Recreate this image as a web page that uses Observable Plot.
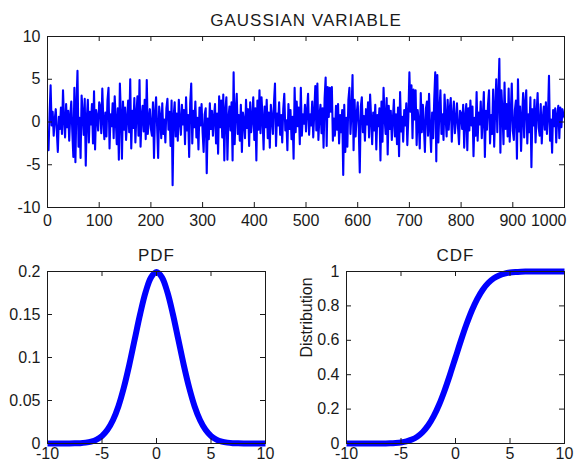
<!DOCTYPE html>
<html><head><meta charset="utf-8">
<script src="https://cdn.jsdelivr.net/npm/d3@7"></script>
<script src="https://cdn.jsdelivr.net/npm/@observablehq/plot@0.6"></script>
<style>
html,body{margin:0;padding:0;background:#fff;}
#fig{position:relative;width:579px;height:463px;overflow:hidden;background:#fff;}
#fig svg{position:absolute;font-family:"Liberation Sans",Arial,sans-serif;}
</style></head><body><div id="fig"></div>
<script>
// ---- data ----
const signal = [
-3.3,0.9,4.3,-0.4,1.2,-1.6,0.3,1.5,-1.1,-3.5,0.6,-0.8,1.7,-1.4,3.7,0.2,-1.8,2.1,-0.6,1.3,-2.2,0.7,2.4,-1.2,-4.1,4.0,-4.7,1.9,6.0,-2.9,0.5,-4.2,3.1,1.0,-1.5,2.7,-5.1,0.4,2.6,-2.4,1.2,-0.3,2.1,-2.5,3.6,-3.2,1.4,0.6,-1.0,2.3,
1.8,-1.3,3.9,0.2,-2.0,1.1,-1.7,2.5,4.0,-3.1,0.9,-0.5,2.2,-1.9,3.0,0.3,-2.6,1.6,-4.4,4.5,0.8,-4.3,2.4,-0.9,1.7,-2.1,0.4,2.5,-1.2,5.0,-3.1,1.3,-0.7,2.8,-2.4,0.9,3.0,-1.6,4.9,-2.9,0.6,1.9,-1.1,2.6,-2.0,4.9,-1.4,0.2,1.5,-0.8,
-1.6,2.3,-4.2,1.0,2.9,-0.5,-4.2,1.8,0.6,-1.9,2.2,-1.4,0.3,-2.4,1.6,2.7,-0.9,1.2,-2.8,2.5,-7.4,0.7,2.3,-1.7,1.0,-2.2,2.6,0.1,-1.5,2.0,-0.3,1.4,-2.6,2.9,-1.0,0.8,-4.1,2.2,4.5,-2.5,1.3,-0.6,2.4,-1.8,0.5,-3.2,1.7,-0.4,2.1,-1.2,
-3.5,0.9,1.6,-6.0,0.4,-2.0,2.2,-0.8,1.3,-1.6,0.6,2.1,-2.5,1.0,-3.7,3.0,-0.6,2.5,-1.8,3.2,-4.5,1.4,2.9,-4.4,0.5,1.8,-1.0,2.3,-4.5,5.8,-2.6,1.2,3.3,-1.4,0.8,-2.2,2.0,-3.5,1.1,0.2,-1.9,2.6,-0.7,1.5,-2.8,2.3,-1.2,0.4,2.9,-2.1,
1.6,-4.5,2.5,-0.9,3.7,-1.3,2.9,0.4,-3.2,1.8,-0.6,2.6,-1.9,1.1,-3.0,2.0,0.5,-1.4,2.2,4.5,-2.8,1.0,-0.4,2.3,-1.5,0.8,-2.4,1.5,3.3,-1.0,0.2,-3.3,2.1,-0.8,1.4,-2.0,0.6,-4.3,4.0,-1.2,2.4,-0.5,1.7,-2.6,4.0,-1.6,0.9,-0.2,2.0,-1.1,
1.3,3.3,-1.5,0.9,-0.4,2.4,-1.8,1.1,4.2,-1.0,4.5,-2.1,0.7,2.0,-1.3,1.6,-3.0,2.8,5.2,-2.8,4.1,0.6,4.0,1.2,4.1,-2.2,0.4,-1.6,1.9,-0.9,2.1,-2.5,0.8,-1.2,1.4,-6.2,2.0,-3.5,0.5,-2.9,2.6,4.0,-1.4,1.1,5.5,-3.3,2.6,-1.7,0.9,2.3,
-0.6,-5.9,1.8,2.9,-1.2,0.7,-2.2,1.5,-0.3,2.3,-1.8,3.2,0.4,-2.6,1.1,-1.0,2.0,-3.2,0.8,-0.5,1.6,-4.5,2.4,-2.3,4.0,0.5,-1.4,2.8,-3.8,1.9,-0.8,1.3,-2.1,0.3,2.6,-1.7,0.9,-2.6,1.7,-4.0,3.5,-1.1,0.6,-2.3,1.4,-0.4,2.2,-2.7,0.7,5.8,
1.2,4.3,-1.9,3.8,0.3,3.7,-2.7,1.4,0.1,-3.1,3.4,-1.2,2.0,-0.5,-3.5,1.6,2.4,-1.6,3.3,-0.7,-3.5,1.1,-1.9,2.6,5.8,-4.6,5.5,-2.4,1.2,3.7,-1.4,0.9,-2.1,3.2,0.6,-1.7,2.6,-0.9,1.5,2.8,-2.3,0.7,2.4,-1.3,0.2,2.2,-0.6,-2.6,1.3,1.0,
-0.8,2.0,-3.0,0.7,2.1,-3.3,1.6,-1.0,2.5,-0.4,1.8,-4.0,0.5,-1.6,3.5,-2.2,1.1,-0.3,2.4,-1.9,0.6,3.5,-4.1,1.3,-0.9,2.0,3.7,-2.5,0.8,-1.4,3.8,-2.9,1.6,5.0,-1.2,3.0,7.4,-3.6,3.7,1.2,-2.6,4.6,-0.8,2.1,-1.7,3.9,-2.3,0.9,4.5,-1.0,
-2.1,1.4,2.5,-4.3,5.0,-1.1,1.8,-3.4,0.6,3.4,-1.8,2.2,3.7,-2.5,0.9,-1.2,2.9,-5.3,1.5,-0.4,2.6,-2.4,1.0,3.4,-0.7,-1.6,2.1,-2.5,0.4,1.8,-0.9,2.3,-1.4,0.7,5.4,-2.2,0.3,-3.6,1.4,-0.5,1.6,-2.4,0.8,1.9,-1.9,1.7,-0.6,1.5,0.8,0.5
];
const signalMaxX = 1000;

const distX = [-10,-9.5,-9,-8.5,-8,-7.5,-7,-6.5,-6,-5.5,-5,-4.5,-4,-3.5,-3,-2.5,-2,-1.5,-1,-0.5,0,
               0.5,1,1.5,2,2.5,3,3.5,4,4.5,5,5.5,6,6.5,7,7.5,8,8.5,9,9.5,10];
const pdfY = [0,0,0,0,0.0001,0.0002,0.0004,0.0010,0.0022,0.0045,0.0088,0.0159,0.0270,0.0431,0.0648,0.0913,0.1210,0.1506,0.1760,0.1933,0.1995,
              0.1933,0.1760,0.1506,0.1210,0.0913,0.0648,0.0431,0.0270,0.0159,0.0088,0.0045,0.0022,0.0010,0.0004,0.0002,0.0001,0,0,0,0];
const cdfY = [0,0,0,0,0,0.0001,0.0002,0.0006,0.0013,0.0030,0.0062,0.0122,0.0228,0.0401,0.0668,0.1056,0.1587,0.2266,0.3085,0.4013,0.5,
              0.5987,0.6915,0.7734,0.8413,0.8944,0.9332,0.9599,0.9772,0.9878,0.9938,0.9970,0.9987,0.9994,0.9998,0.9999,1,1,1,1,1];

const signalXTicks = [0,100,200,300,400,500,600,700,800,900,1000];
const signalYTicks = [-10,-5,0,5,10];
const distXTicks = [-10,-5,0,5,10];
const pdfYTicks = [0,0.05,0.1,0.15,0.2];
const cdfYTicks = [0,0.2,0.4,0.6,0.8,1];
const titleTop = "GAUSSIAN VARIABLE";
const titlePdf = "PDF";
const titleCdf = "CDF";
const cdfYLabel = "Distribution";

// ---- drawing ----
const BLUE = "#0000ff";
const INK = "#1a1a1a";
const fmt = d => String(d);

function panel({left, top, width, height, ml, mr, mt, mb, xDomain, yDomain, xTicks, yTicks, title, ylabel, lineMark, endLast, xPad}) {
  const iw = width - ml - mr, ih = height - mt - mb, tl = 5;
  const axisOpts = {anchor: "bottom", tickSize: 0, tickPadding: xPad, tickFormat: fmt, fontSize: 16, fill: INK, label: null};
  const marks = [
    lineMark,
    Plot.frame({stroke: INK, strokeWidth: 1}),
    Plot.ruleX(xTicks, {x: d => d, stroke: INK, insetTop: ih - tl}),
    Plot.ruleX(xTicks, {x: d => d, stroke: INK, insetBottom: ih - tl}),
    Plot.ruleY(yTicks, {y: d => d, stroke: INK, insetRight: iw - tl}),
    Plot.ruleY(yTicks, {y: d => d, stroke: INK, insetLeft: iw - tl}),
    Plot.axisY(yTicks, {anchor: "left", tickSize: 0, tickPadding: 7, tickFormat: fmt, fontSize: 16, fill: INK, label: null}),
    Plot.text([title], {text: d => d, frameAnchor: "top", dy: -11, lineAnchor: "bottom", fontSize: 17, fill: INK})
  ];
  if (endLast) {
    marks.push(Plot.axisX(xTicks.slice(0, -1), axisOpts));
    marks.push(Plot.axisX(xTicks.slice(-1), {...axisOpts, textAnchor: "end", dx: 2}));
  } else {
    marks.push(Plot.axisX(xTicks, axisOpts));
  }
  if (ylabel) marks.push(Plot.text([ylabel], {text: d => d, frameAnchor: "left", dx: -40, rotate: -90, fontSize: 16, fill: INK}));
  const svg = Plot.plot({
    width, height,
    marginLeft: ml, marginRight: mr, marginTop: mt, marginBottom: mb,
    style: {fontSize: "16px", fontFamily: "'Liberation Sans', Arial, sans-serif", background: "transparent", overflow: "visible"},
    x: {domain: xDomain, axis: null},
    y: {domain: yDomain, axis: null},
    marks
  });
  // slightly wider letter spacing for the panel title, as in the reference
  svg.querySelectorAll("text").forEach(t => { if (t.textContent === title) t.style.letterSpacing = "1px"; });
  svg.style.left = left + "px";
  svg.style.top = top + "px";
  document.getElementById("fig").appendChild(svg);
}

panel({
  left: 0, top: 0, width: 579, height: 230, ml: 47, mr: 15, mt: 36, mb: 23, endLast: true, xPad: 7,
  xDomain: [0, 1000], yDomain: [-10, 10], xTicks: signalXTicks, yTicks: signalYTicks, title: titleTop,
  lineMark: Plot.lineY(signal, {x: (d, i) => (i + 1) * signalMaxX / signal.length, y: d => d, stroke: BLUE, strokeWidth: 2.1, clip: true})
});

const pdfData = distX.map((x, i) => ({x, y: pdfY[i]}));
const cdfData = distX.map((x, i) => ({x, y: cdfY[i]}));

panel({
  left: 0, top: 230, width: 290, height: 233, ml: 47, mr: 25, mt: 41, mb: 20, xPad: 4,
  xDomain: [-10, 10], yDomain: [0, 0.2], xTicks: distXTicks, yTicks: pdfYTicks, title: titlePdf,
  lineMark: Plot.line(pdfData, {x: "x", y: "y", stroke: BLUE, strokeWidth: 6, curve: "catmull-rom", strokeLinecap: "butt"})
});

panel({
  left: 290, top: 230, width: 289, height: 233, ml: 56, mr: 15, mt: 41, mb: 20, xPad: 4,
  xDomain: [-10, 10], yDomain: [0, 1], xTicks: distXTicks, yTicks: cdfYTicks, title: titleCdf, ylabel: cdfYLabel,
  lineMark: Plot.line(cdfData, {x: "x", y: "y", stroke: BLUE, strokeWidth: 6, curve: "catmull-rom", strokeLinecap: "butt"})
});
</script></body></html>
